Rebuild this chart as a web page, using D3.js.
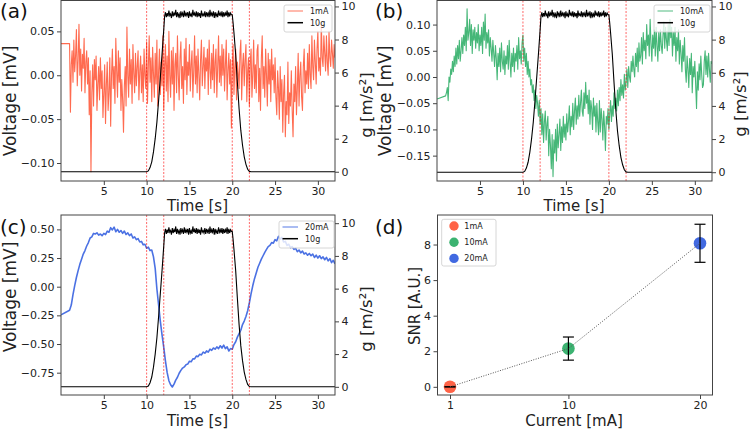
<!DOCTYPE html>
<html>
<head>
<meta charset="utf-8">
<script src="https://cdn.jsdelivr.net/npm/d3@7"></script>
<style>
body { margin: 0; background: #fff; }
svg { display: block; }
</style>
</head>
<body>
<div id="chart"></div>
<script>
// sampled voltage traces: first point at t = 0, then one value per step from t = 1.0
var tStart = 1.0;
var timeTicks = [5, 10, 15, 20, 25, 30];
var markTimes = [10, 12, 20, 22];

var startA = 0.036, stepA = 0.1;
var valuesA = [
  0.036,-0.042,0.012,0.028,-0.008,0.040,0.004,0.022,0.052,-0.012,0.018,0.058,0.000,0.030,-0.018,0.024,0.008,0.042,-0.020,0.015,
  0.028,-0.010,0.020,-0.045,0.005,-0.110,-0.020,0.012,-0.035,0.018,-0.005,0.022,-0.040,-0.010,0.010,-0.028,0.020,-0.015,0.005,-0.048,
  -0.020,0.012,-0.055,-0.010,0.015,-0.040,-0.020,0.020,-0.058,0.000,0.030,-0.015,0.010,-0.032,0.042,0.005,-0.025,0.028,-0.008,0.020,
  -0.040,-0.005,-0.028,-0.065,-0.012,0.010,-0.035,0.055,0.000,-0.025,0.030,-0.010,0.018,-0.032,0.035,0.002,-0.020,0.025,-0.012,0.010,
  0.028,-0.028,0.005,0.022,-0.020,0.012,-0.030,0.030,0.000,-0.015,0.038,-0.032,0.010,0.045,-0.008,0.020,-0.030,0.032,0.002,-0.025,
  0.025,-0.010,0.040,-0.035,0.005,0.030,-0.022,0.015,-0.012,0.045,-0.040,0.010,0.035,-0.018,0.022,-0.030,0.050,0.000,-0.025,0.028,
  -0.010,0.032,-0.040,0.012,0.025,-0.020,0.045,0.000,-0.028,0.020,0.038,-0.015,0.010,-0.032,0.030,-0.005,0.042,-0.022,0.015,0.000,
  0.035,-0.018,0.012,0.028,-0.025,0.005,0.045,-0.010,0.022,-0.020,0.030,0.002,-0.028,0.018,0.040,-0.012,0.010,0.032,-0.015,0.020,
  0.005,0.030,-0.022,0.040,0.008,-0.015,0.025,-0.005,0.035,-0.020,0.015,0.030,-0.025,0.010,0.045,-0.008,0.022,-0.012,0.035,0.000,
  0.030,-0.018,0.012,0.040,-0.028,0.005,0.025,-0.010,0.018,-0.060,0.010,0.035,-0.022,0.008,0.030,-0.028,0.015,0.002,-0.015,0.025,
  0.040,-0.028,0.010,0.025,-0.012,0.018,0.035,-0.030,0.005,0.020,-0.035,0.015,0.030,-0.025,0.002,0.040,-0.015,0.012,-0.020,0.028,
  0.035,-0.030,0.008,-0.040,0.020,0.045,-0.015,0.010,-0.025,0.030,0.000,-0.035,0.025,-0.010,0.018,-0.030,0.030,-0.005,0.012,-0.020,
  0.020,-0.025,-0.045,0.005,-0.015,-0.050,0.010,-0.030,-0.005,-0.065,-0.020,0.000,-0.070,-0.030,-0.045,0.015,-0.055,-0.020,-0.035,0.005,
  -0.040,-0.070,-0.010,-0.030,0.010,-0.045,-0.015,0.025,-0.035,0.000,0.015,-0.025,-0.040,0.010,0.030,-0.020,0.005,-0.010,0.025,-0.015,
  0.035,0.000,-0.015,0.045,0.010,-0.005,0.040,0.015,-0.010,0.030,0.050,0.005,0.020,0.000,0.060,0.020,0.010,0.045,0.025,0.005,
  0.045,0.015,0.000,0.050,0.020,0.010,0.040,0.025,0.008,0.035,0.020
];

var startB = -0.042, stepB = 0.1;
var valuesB = [
  -0.036,-0.030,-0.020,-0.045,0.000,-0.010,0.015,0.005,0.030,0.010,0.040,0.020,0.055,0.025,0.060,0.035,0.070,0.030,0.050,0.075,
  0.045,0.080,0.060,0.095,0.050,0.130,0.070,0.085,0.110,0.060,0.100,0.045,0.090,0.070,0.095,0.055,0.085,0.065,0.100,0.050,
  0.080,0.060,0.095,0.045,0.105,0.070,0.120,0.055,0.085,0.065,0.090,0.040,0.075,0.055,0.030,0.070,0.045,0.020,0.060,0.035,
  -0.005,0.045,0.020,0.055,0.010,0.065,0.030,0.015,0.050,0.005,0.040,0.025,0.060,0.015,0.070,0.030,0.000,0.045,0.020,0.055,
  0.010,0.045,0.030,0.060,0.015,0.075,0.035,0.050,0.025,0.065,0.080,0.030,0.055,0.020,0.045,0.005,0.030,0.000,0.015,-0.015,
  -0.005,-0.030,-0.015,-0.045,-0.025,-0.060,-0.035,-0.050,-0.075,-0.045,-0.090,-0.060,-0.110,-0.070,-0.125,-0.085,-0.065,-0.120,-0.090,-0.075,
  -0.150,-0.100,-0.130,-0.175,-0.110,-0.190,-0.120,-0.145,-0.100,-0.160,-0.090,-0.135,-0.110,-0.080,-0.140,-0.095,-0.125,-0.075,-0.115,-0.090,
  -0.120,-0.070,-0.105,-0.085,-0.055,-0.110,-0.075,-0.095,-0.050,-0.100,-0.065,-0.040,-0.090,-0.055,-0.080,-0.035,-0.075,-0.050,-0.025,-0.065,
  -0.075,-0.030,-0.060,-0.010,-0.050,-0.035,-0.070,-0.025,-0.090,-0.045,-0.060,-0.100,-0.040,-0.075,-0.055,-0.105,-0.050,-0.085,-0.110,-0.045,
  -0.105,-0.060,-0.080,-0.120,-0.065,-0.095,-0.140,-0.075,-0.090,-0.060,-0.100,-0.070,-0.045,-0.085,-0.055,-0.075,-0.030,-0.060,-0.040,-0.065,
  -0.025,-0.055,-0.020,-0.045,-0.005,-0.035,-0.015,-0.040,0.005,-0.025,-0.010,0.015,-0.020,0.020,0.000,-0.010,0.030,0.010,0.040,0.015,
  0.000,0.045,0.020,0.055,0.010,0.065,0.030,0.040,0.075,0.025,0.085,0.050,0.070,0.035,0.100,0.060,0.080,0.040,0.110,0.065,
  0.030,0.080,0.055,0.090,0.040,0.095,0.060,0.030,0.085,0.050,0.090,0.060,0.045,0.080,0.105,0.055,0.095,0.070,0.050,0.100,
  0.060,0.110,0.075,0.095,0.040,0.085,0.060,0.095,0.030,0.075,0.050,0.090,0.025,0.070,0.045,0.010,0.060,0.030,0.075,0.015,
  -0.010,0.040,0.015,-0.020,0.035,0.005,0.045,-0.030,0.020,0.000,0.030,-0.015,-0.060,0.010,-0.025,0.025,-0.005,0.040,0.005,-0.020,
  -0.015,0.030,0.050,0.005,0.040,0.000,0.045,0.015,-0.010,0.030,0.025
];

var startC = -0.245, stepC = 0.2;
var valuesC = [
  -0.205,-0.160,-0.070,0.010,0.080,0.140,0.195,0.240,0.285,0.315,
  0.355,0.385,0.425,0.435,0.465,0.460,0.470,0.450,0.460,0.445,
  0.465,0.455,0.485,0.475,0.515,0.495,0.520,0.480,0.500,0.475,
  0.490,0.465,0.485,0.455,0.470,0.445,0.460,0.425,0.435,0.410,
  0.420,0.390,0.395,0.365,0.370,0.335,0.345,0.315,0.320,0.260,
  0.160,-0.020,-0.160,-0.300,-0.420,-0.530,-0.650,-0.750,-0.820,-0.855,
  -0.875,-0.850,-0.815,-0.790,-0.755,-0.730,-0.710,-0.700,-0.680,-0.675,
  -0.650,-0.655,-0.630,-0.630,-0.605,-0.610,-0.590,-0.595,-0.570,-0.580,
  -0.560,-0.570,-0.545,-0.555,-0.535,-0.545,-0.525,-0.540,-0.515,-0.535,
  -0.510,-0.540,-0.525,-0.560,-0.540,-0.545,-0.505,-0.480,-0.440,-0.410,
  -0.380,-0.330,-0.300,-0.260,-0.210,-0.140,-0.060,0.010,0.070,0.120,
  0.170,0.205,0.240,0.270,0.300,0.325,0.350,0.360,0.385,0.380,
  0.410,0.400,0.440,0.415,0.430,0.390,0.395,0.360,0.370,0.340,
  0.350,0.325,0.335,0.305,0.320,0.295,0.310,0.285,0.295,0.275,
  0.290,0.270,0.285,0.255,0.275,0.250,0.270,0.245,0.260,0.235,
  0.255,0.225,0.245,0.210,0.230,0.200
];

// 10g acceleration profile
var gRampUpT = [0, 10, 10.2, 10.4, 10.6, 10.8, 11.0, 11.2, 11.4, 11.6, 11.8, 12.0, 12.1];
var gRampUpV = [0, 0, 0.05, 0.25, 0.6, 1.2, 2.0, 3.0, 4.3, 5.7, 7.1, 8.6, 9.4];
var gPlateauStart = 12.2, gPlateauStep = 0.1;
var gPlateau = [
  9.65,9.35,9.6,9.4,9.75,9.45,9.55,9.3,9.7,9.4,
  9.6,9.45,9.8,9.35,9.65,9.4,9.55,9.3,9.7,9.45,
  9.6,9.35,9.75,9.4,9.6,9.45,9.65,9.3,9.7,9.4,
  9.55,9.35,9.8,9.45,9.6,9.4,9.7,9.35,9.65,9.4,
  9.6,9.3,9.75,9.45,9.55,9.4,9.7,9.35,9.65,9.45,
  9.6,9.35,9.8,9.4,9.6,9.45,9.7,9.3,9.65,9.4,
  9.55,9.35,9.75,9.45,9.6,9.4,9.7,9.35,9.65,9.4,
  9.6,9.45,9.75,9.35,9.65,9.4,9.6,9.5
];
var gRampDownT = [20.0, 20.1, 20.2, 20.4, 20.6, 20.8, 21.0, 21.2, 21.4, 21.6, 21.8, 22.0, 22.2, 32];
var gRampDownV = [9.5, 9.0, 8.4, 7.1, 5.4, 3.8, 2.5, 1.6, 0.9, 0.45, 0.15, 0.02, 0, 0];

// panel (d)
var currents = [1, 10, 20];
var currentLabels = ["1mA", "10mA", "20mA"];
var snr = [0, 2.15, 8.07];
var snrErr = [0, 0.65, 1.07];

var font = "DejaVu Sans, sans-serif";
var axisColor = "#444";
var colorA = "#ff6347", colorB = "#3cb371", colorC = "#4169e1";

var svg = d3.select("#chart").append("svg")
  .attr("width", 750)
  .attr("height", 429)
  .attr("font-family", font);

function styleAxis(ax) {
  ax.attr("font-family", font).attr("font-size", 11);
  ax.select(".domain").remove();
  ax.selectAll(".tick line").attr("stroke", axisColor);
  ax.selectAll(".tick text").attr("fill", "#222");
}

function legend(x, y, w, h, items) {
  var lg = svg.append("g");
  lg.append("rect").attr("x", x).attr("y", y).attr("width", w).attr("height", h)
    .attr("rx", 2).attr("fill", "#fff").attr("fill-opacity", 0.8)
    .attr("stroke", "#ccc").attr("stroke-width", 0.8);
  items.forEach(function(it, i) {
    var cy = y + 6 + i * 11.7;
    lg.append("line").attr("x1", x + 3.5).attr("x2", x + 19).attr("y1", cy).attr("y2", cy)
      .attr("stroke", it.color).attr("stroke-opacity", it.alpha).attr("stroke-width", 1.5);
    lg.append("text").attr("x", x + 26).attr("y", cy + 2.8).attr("font-size", 8)
      .attr("fill", "#222").text(it.name);
  });
}

function timePanel(p) {
  var x = d3.scaleLinear().domain([0, 32]).range([p.left, p.right]);
  var yV = d3.scaleLinear().domain(p.vDomain).range([p.bottom, p.top]);
  var yG = d3.scaleLinear().domain(p.gDomain).range([p.bottom, p.top]);
  var g = svg.append("g");

  g.append("clipPath").attr("id", "clip" + p.id).append("rect")
    .attr("x", p.left).attr("y", p.top).attr("width", p.right - p.left).attr("height", p.bottom - p.top);
  var plot = g.append("g").attr("clip-path", "url(#clip" + p.id + ")");

  var vPts = [[0, p.start]].concat(p.values.map(function(v, i) { return [tStart + i * p.step, v]; }));
  plot.append("path").datum(vPts)
    .attr("d", d3.line().x(function(d) { return x(d[0]); }).y(function(d) { return yV(d[1]); }))
    .attr("fill", "none").attr("stroke", p.color).attr("stroke-opacity", 0.95)
    .attr("stroke-width", p.width).attr("stroke-linejoin", "round");

  plot.selectAll(".mark").data(markTimes).enter().append("line")
    .attr("x1", function(d) { return x(d); }).attr("x2", function(d) { return x(d); })
    .attr("y1", p.top).attr("y2", p.bottom)
    .attr("stroke", "#ff0000").attr("stroke-opacity", 0.75).attr("stroke-width", 0.8)
    .attr("stroke-dasharray", "2,1.5");

  var gPts = gRampUpT.map(function(t, i) { return [t, gRampUpV[i]]; })
    .concat(gPlateau.map(function(v, i) { return [gPlateauStart + i * gPlateauStep, v]; }))
    .concat(gRampDownT.map(function(t, i) { return [t, gRampDownV[i]]; }));
  plot.append("path").datum(gPts)
    .attr("d", d3.line().x(function(d) { return x(d[0]); }).y(function(d) { return yG(d[1]); }))
    .attr("fill", "none").attr("stroke", "#000").attr("stroke-width", 1.1);

  g.append("rect").attr("x", p.left).attr("y", p.top)
    .attr("width", p.right - p.left).attr("height", p.bottom - p.top)
    .attr("fill", "none").attr("stroke", axisColor).attr("stroke-width", 1);

  var axB = g.append("g").attr("transform", "translate(0," + p.bottom + ")")
    .call(d3.axisBottom(x).tickValues(timeTicks).tickSize(4).tickPadding(2.5));
  styleAxis(axB);
  var axL = g.append("g").attr("transform", "translate(" + p.left + ",0)")
    .call(d3.axisLeft(yV).tickValues(p.vTicks).tickFormat(d3.format(".2f")).tickSize(4).tickPadding(2.5));
  styleAxis(axL);
  var axR = g.append("g").attr("transform", "translate(" + p.right + ",0)")
    .call(d3.axisRight(yG).tickValues([0, 2, 4, 6, 8, 10]).tickSize(4).tickPadding(2.5));
  styleAxis(axR);

  g.append("text").attr("x", (p.left + p.right) / 2 - 0.5).attr("y", p.xLabelY)
    .attr("text-anchor", "middle").attr("font-size", 15).attr("fill", "#222").text("Time [s]");
  g.append("text").attr("transform", "translate(" + p.vLabel[0] + "," + p.vLabel[1] + ") rotate(-90)")
    .attr("text-anchor", "middle").attr("dominant-baseline", "central")
    .attr("font-size", 17).attr("fill", "#222").text("Voltage [mV]");
  g.append("text").attr("transform", "translate(" + p.gLabel[0] + "," + p.gLabel[1] + ") rotate(-90)")
    .attr("text-anchor", "middle").attr("dominant-baseline", "central")
    .attr("font-size", 16.5).attr("fill", "#222").text("g [m/s²]");
  g.append("text").attr("x", p.tag[0]).attr("y", p.tag[1]).attr("font-size", 20)
    .attr("fill", "#111").text(p.tagText);

  legend(p.legend[0], p.legend[1], p.legend[2], p.legend[3], [
    { name: p.name, color: p.color, alpha: 0.6 },
    { name: "10g", color: "#000", alpha: 1 }
  ]);
}

timePanel({
  id: "a", left: 61, right: 335, top: 0.5, bottom: 181,
  vDomain: [-0.1205, 0.0852], gDomain: [-0.56, 10.36], vTicks: [-0.10, -0.05, 0, 0.05],
  start: startA, values: valuesA, step: stepA, width: 1.1, color: colorA, name: "1mA",
  xLabelY: 211, vLabel: [10, 101], gLabel: [366, 105], tag: [0, 18], tagText: "(a)",
  legend: [284, 5, 48, 27]
});
timePanel({
  id: "b", left: 437, right: 712, top: 0.5, bottom: 181,
  vDomain: [-0.1984, 0.1459], gDomain: [-0.53, 10.36], vTicks: [-0.15, -0.10, -0.05, 0, 0.05, 0.10],
  start: startB, values: valuesB, step: stepB, width: 1.1, color: colorB, name: "10mA",
  xLabelY: 211, vLabel: [385, 101], gLabel: [740.5, 104], tag: [375, 18], tagText: "(b)",
  legend: [654, 5, 56, 27]
});
timePanel({
  id: "c", left: 61, right: 335, top: 215, bottom: 395,
  vDomain: [-0.9447, 0.6254], gDomain: [-0.5, 10.5], vTicks: [-0.75, -0.50, -0.25, 0, 0.25, 0.50],
  start: startC, values: valuesC, step: stepC, width: 1.6, color: colorC, name: "20mA",
  xLabelY: 426, vLabel: [10, 297], gLabel: [366, 319], tag: [0, 234], tagText: "(c)",
  legend: [279, 221, 55, 27]
});

// panel (d): SNR against current
(function() {
  var left = 437.5, right = 712.5, top = 215, bottom = 395;
  var x = d3.scaleLinear().domain([0.05, 20.95]).range([left, right]);
  var y = d3.scaleLinear().domain([-0.46, 9.66]).range([bottom, top]);
  var g = svg.append("g");
  var pts = currents.map(function(c, i) { return { c: c, v: snr[i], e: snrErr[i], color: [colorA, colorB, colorC][i] }; });

  g.selectAll(".dot").data(pts).enter().append("circle")
    .attr("cx", function(d) { return x(d.c); }).attr("cy", function(d) { return y(d.v); })
    .attr("r", 6.3).attr("fill", function(d) { return d.color; });

  var eb = g.selectAll(".err").data(pts).enter().append("g")
    .attr("stroke", "#000").attr("stroke-width", 1.2);
  eb.append("line").attr("x1", function(d) { return x(d.c); }).attr("x2", function(d) { return x(d.c); })
    .attr("y1", function(d) { return y(d.v - d.e); }).attr("y2", function(d) { return y(d.v + d.e); });
  eb.append("line").attr("x1", function(d) { return x(d.c) - 5.5; }).attr("x2", function(d) { return x(d.c) + 5.5; })
    .attr("y1", function(d) { return y(d.v - d.e); }).attr("y2", function(d) { return y(d.v - d.e); });
  eb.append("line").attr("x1", function(d) { return x(d.c) - 5.5; }).attr("x2", function(d) { return x(d.c) + 5.5; })
    .attr("y1", function(d) { return y(d.v + d.e); }).attr("y2", function(d) { return y(d.v + d.e); });

  g.append("path").datum(pts)
    .attr("d", d3.line().x(function(d) { return x(d.c); }).y(function(d) { return y(d.v); }))
    .attr("fill", "none").attr("stroke", "#555").attr("stroke-width", 1).attr("stroke-dasharray", "1,1.5");

  g.append("rect").attr("x", left).attr("y", top).attr("width", right - left).attr("height", bottom - top)
    .attr("fill", "none").attr("stroke", axisColor).attr("stroke-width", 1);

  var axB = g.append("g").attr("transform", "translate(0," + bottom + ")")
    .call(d3.axisBottom(x).tickValues(currents).tickSize(4).tickPadding(2.5));
  styleAxis(axB);
  var axL = g.append("g").attr("transform", "translate(" + left + ",0)")
    .call(d3.axisLeft(y).tickValues([0, 2, 4, 6, 8]).tickSize(4).tickPadding(2.5));
  styleAxis(axL);

  g.append("text").attr("x", 574).attr("y", 426).attr("text-anchor", "middle")
    .attr("font-size", 15).attr("fill", "#222").text("Current [mA]");
  g.append("text").attr("transform", "translate(415,306) rotate(-90)")
    .attr("text-anchor", "middle").attr("dominant-baseline", "central")
    .attr("font-size", 15).attr("fill", "#222").text("SNR [A.U.]");
  g.append("text").attr("x", 375).attr("y", 233.5).attr("font-size", 20).attr("fill", "#111").text("(d)");

  var lg = g.append("g");
  lg.append("rect").attr("x", 441.7).attr("y", 219.3).attr("width", 54.3).attr("height", 46.7)
    .attr("rx", 2).attr("fill", "#fff").attr("fill-opacity", 0.8).attr("stroke", "#ccc").attr("stroke-width", 0.8);
  pts.forEach(function(d, i) {
    var cy = 226 + i * 16.2;
    lg.append("circle").attr("cx", 454).attr("cy", cy).attr("r", 4.7).attr("fill", d.color);
    lg.append("text").attr("x", 464.3).attr("y", cy + 2.8).attr("font-size", 8).attr("fill", "#222").text(currentLabels[i]);
  });
})();
</script>
</body>
</html>
